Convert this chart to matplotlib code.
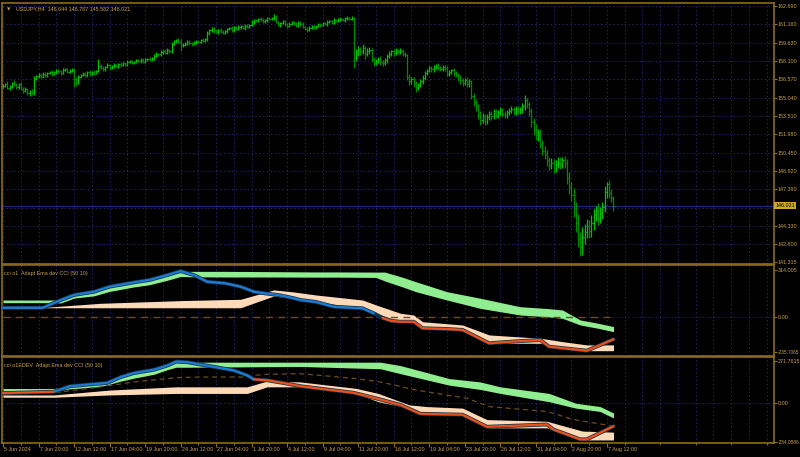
import numpy as np
import matplotlib
matplotlib.use("Agg")
import matplotlib.pyplot as plt
from matplotlib import font_manager

# USDJPY H4 closes, bar by bar
closes = [
    156.05, 156.20, 155.85, 155.95, 156.30, 156.10, 155.90, 156.15,
    155.80, 155.60, 155.75, 155.45, 155.55, 155.40,
    156.60, 156.85, 156.95, 156.80,
    157.05, 156.90, 157.10, 157.20, 157.00, 157.15, 157.30, 157.25, 157.10, 157.35, 157.40, 157.20, 157.30, 157.35,
    156.60, 156.30,
    156.80, 156.95, 157.05, 156.90, 157.15, 157.00, 157.20, 157.10, 157.25,
    157.70,
    157.55, 157.40, 157.60, 157.75, 157.50, 157.65, 157.80, 157.70, 157.85, 157.75, 157.90, 157.80,
    158.00, 158.10, 157.95, 158.05, 158.15, 158.10, 158.20, 158.05, 158.25, 158.30, 158.20, 158.35,
    158.55, 158.70, 158.65, 158.85, 158.95, 158.80, 159.00, 158.90,
    159.50, 159.75, 159.85, 159.70,
    159.40,
    159.45, 159.55, 159.70, 159.60, 159.50, 159.65, 159.75, 159.70, 159.85, 159.80, 159.90,
    160.40, 160.65, 160.80, 160.60, 160.50, 160.70, 160.55, 160.45, 160.60,
    160.75, 160.85, 160.65, 160.90, 160.80, 160.95, 161.00, 160.85, 161.05, 160.95, 161.10,
    161.35, 161.50, 161.45, 161.60, 161.55, 161.40, 161.50, 161.65, 161.60, 161.70, 161.80, 161.35,
    161.10, 161.25, 161.40, 161.15, 161.00, 161.20, 161.35, 161.25, 161.05, 161.30,
    161.20, 160.95, 160.80, 160.70, 160.85, 161.00, 160.90, 161.05, 161.15, 161.10, 161.25, 161.20,
    161.35, 161.40, 161.30, 161.50, 161.45, 161.55, 161.60, 161.50, 161.65, 161.70, 161.60, 161.70,
    158.40,
    158.80, 159.10, 158.90, 159.20, 158.70, 158.95, 159.05,
    158.20, 157.95, 158.10, 158.30, 158.05, 157.90, 158.15,
    158.50, 158.70, 158.90, 158.75, 159.00, 158.85, 158.95, 158.70, 158.60,
    156.80,
    156.40, 156.60, 156.20, 155.90, 156.10, 156.45, 156.70,
    157.10, 157.30, 157.50, 157.40, 157.60, 157.70, 157.55, 157.45, 157.60, 157.50,
    157.00, 157.20, 157.35, 157.10, 156.95,
    156.70, 156.50, 156.30, 156.55, 156.20, 156.40,
    155.20, 154.70, 154.30, 153.60, 153.20, 153.50, 153.10,
    153.40, 153.70, 153.50, 153.90, 153.60, 153.80, 154.00, 153.70, 153.55,
    153.80, 153.95, 154.05, 153.85, 154.10, 153.90, 154.00, 154.30, 154.80, 154.50, 153.90,
    153.00, 152.40, 151.90, 152.10,
    151.20, 150.60, 150.30,
    149.80, 149.40, 149.60, 149.20, 149.50,
    149.70, 149.50, 149.80, 149.60,
    148.30, 147.60, 146.90,
    145.80, 144.60, 143.20, 142.60, 143.40,
    143.80, 144.30, 143.90,
    144.60, 145.20, 145.60, 145.00, 145.40, 145.90,
    147.20, 147.80, 147.10, 146.644, 146.021,
]
first_open = 156.00

# upper / lower wick lengths of each bar
wick_up = [
    0.15, 0.10, 0.20, 0.12, 0.08, 0.18, 0.14, 0.10, 0.22, 0.12, 0.16, 0.10,
    0.14, 0.20, 0.25, 0.10, 0.12, 0.18, 0.10, 0.15, 0.12, 0.08, 0.14, 0.10,
    0.12, 0.16, 0.10, 0.14, 0.08, 0.12, 0.10, 0.15, 0.20, 0.18, 0.12, 0.10,
    0.14, 0.10, 0.12, 0.16, 0.08, 0.12, 0.10, 0.60, 0.15, 0.12, 0.10, 0.14,
    0.12, 0.10, 0.16, 0.08, 0.12, 0.14, 0.10, 0.12, 0.15, 0.10, 0.12, 0.08,
    0.14, 0.10, 0.12, 0.16, 0.10, 0.08, 0.12, 0.10, 0.15, 0.12, 0.10, 0.14,
    0.10, 0.12, 0.15, 0.10, 0.18, 0.12, 0.10, 0.14, 0.20, 0.12, 0.10, 0.15,
    0.12, 0.10, 0.14, 0.08, 0.12, 0.10, 0.15, 0.12, 0.20, 0.14, 0.10, 0.12,
    0.15, 0.10, 0.12, 0.14, 0.10, 0.12, 0.08, 0.14, 0.10, 0.12, 0.15, 0.10,
    0.12, 0.10, 0.14, 0.12, 0.18, 0.10, 0.12, 0.08, 0.14, 0.10, 0.12, 0.10,
    0.14, 0.10, 0.20, 0.15, 0.12, 0.10, 0.14, 0.12, 0.10, 0.15, 0.12, 0.10,
    0.14, 0.10, 0.12, 0.15, 0.10, 0.12, 0.14, 0.10, 0.12, 0.08, 0.14, 0.10,
    0.12, 0.10, 0.14, 0.12, 0.10, 0.15, 0.12, 0.10, 0.14, 0.12, 0.10, 0.12,
    0.10, 0.12, 0.05, 0.30, 0.25, 0.20, 0.30, 0.15, 0.20, 0.25, 0.15, 0.20,
    0.18, 0.15, 0.20, 0.12, 0.18, 0.15, 0.20, 0.12, 0.18, 0.15, 0.12, 0.20,
    0.15, 0.12, 0.10, 0.25, 0.20, 0.18, 0.25, 0.20, 0.15, 0.20, 0.18, 0.15,
    0.20, 0.15, 0.18, 0.12, 0.20, 0.15, 0.18, 0.20, 0.15, 0.18, 0.12, 0.20,
    0.15, 0.18, 0.20, 0.15, 0.12, 0.20, 0.18, 0.15, 0.20, 0.25, 0.18, 0.30,
    0.25, 0.20, 0.30, 0.20, 0.25, 0.18, 0.22, 0.20, 0.25, 0.18, 0.20, 0.22,
    0.20, 0.25, 0.18, 0.22, 0.20, 0.25, 0.30, 0.50, 0.25, 0.20, 0.30, 0.35,
    0.40, 0.30, 0.35, 0.30, 0.40, 0.35, 0.30, 0.40, 0.35, 0.30, 0.40, 0.35,
    0.30, 0.40, 0.35, 0.50, 0.40, 0.60, 0.50, 0.70, 0.60, 0.80, 0.70, 0.60,
    0.50, 0.60, 0.50, 0.40, 0.60, 0.50, 0.40, 0.50, 0.20, 0.40, 0.30, 0.143,
]
wick_dn = [
    0.12, 0.15, 0.10, 0.18, 0.12, 0.10, 0.16, 0.12, 0.10, 0.14, 0.12, 0.20,
    0.30, 0.15, 0.10, 0.12, 0.14, 0.10, 0.12, 0.15, 0.10, 0.12, 0.14, 0.10,
    0.10, 0.12, 0.14, 0.10, 0.12, 0.08, 0.14, 0.10, 0.70, 0.25, 0.12, 0.10,
    0.12, 0.14, 0.10, 0.12, 0.10, 0.14, 0.12, 0.10, 0.12, 0.14, 0.10, 0.12,
    0.14, 0.10, 0.12, 0.10, 0.15, 0.12, 0.10, 0.14, 0.12, 0.10, 0.12, 0.14,
    0.10, 0.12, 0.14, 0.10, 0.12, 0.15, 0.10, 0.12, 0.14, 0.10, 0.12, 0.10,
    0.14, 0.10, 0.12, 0.15, 0.12, 0.10, 0.14, 0.12, 0.50, 0.14, 0.10, 0.12,
    0.15, 0.12, 0.10, 0.14, 0.12, 0.10, 0.12, 0.14, 0.15, 0.10, 0.12, 0.14,
    0.10, 0.12, 0.14, 0.10, 0.12, 0.15, 0.10, 0.12, 0.14, 0.10, 0.12, 0.15,
    0.10, 0.14, 0.12, 0.10, 0.12, 0.15, 0.10, 0.12, 0.14, 0.10, 0.12, 0.14,
    0.10, 0.12, 0.14, 0.10, 0.12, 0.15, 0.10, 0.12, 0.14, 0.10, 0.12, 0.14,
    0.10, 0.12, 0.15, 0.10, 0.12, 0.14, 0.10, 0.12, 0.15, 0.10, 0.12, 0.14,
    0.10, 0.12, 0.14, 0.10, 0.12, 0.15, 0.10, 0.12, 0.14, 0.10, 0.12, 0.14,
    0.10, 0.12, 0.85, 0.30, 0.25, 0.30, 0.25, 0.40, 0.20, 0.25, 0.20, 0.25,
    0.20, 0.15, 0.25, 0.20, 0.15, 0.20, 0.18, 0.15, 0.20, 0.18, 0.15, 0.20,
    0.18, 0.20, 0.30, 0.30, 0.25, 0.30, 0.40, 0.25, 0.20, 0.25, 0.20, 0.18,
    0.15, 0.20, 0.18, 0.15, 0.20, 0.18, 0.15, 0.20, 0.18, 0.15, 0.20, 0.25,
    0.20, 0.25, 0.30, 0.25, 0.20, 0.30, 0.25, 0.30, 0.35, 0.40, 0.35, 0.45,
    0.30, 0.35, 0.30, 0.25, 0.30, 0.25, 0.30, 0.25, 0.20, 0.30, 0.25, 0.20,
    0.25, 0.20, 0.25, 0.30, 0.25, 0.20, 0.25, 0.30, 0.30, 0.40, 0.40, 0.45,
    0.40, 0.45, 0.40, 0.35, 0.40, 0.45, 0.40, 0.35, 0.45, 0.40, 0.35, 0.40,
    0.35, 0.40, 0.50, 0.60, 0.50, 0.70, 0.80, 0.60, 0.80, 0.70, 0.60, 0.50,
    0.60, 0.50, 0.60, 0.50, 0.60, 0.40, 0.50, 0.40, 0.50, 0.40, 0.30, 0.439,
]

price_ticks = [162.690, 161.160, 159.630, 158.100, 156.570, 155.040, 153.510,
               151.980, 150.450, 148.920, 147.390, 145.860, 144.330, 142.800]
price_min = 141.315
last_price = 146.021
header = "USDJPY,H4  146.644 146.787 145.582 146.021"

date_labels = ["5 Jun 2024", "7 Jun 20:00", "12 Jun 12:00", "17 Jun 04:00", "19 Jun 20:00",
               "24 Jun 12:00", "27 Jun 04:00", "1 Jul 20:00", "4 Jul 12:00", "9 Jul 04:00",
               "11 Jul 20:00", "16 Jul 12:00", "19 Jul 04:00", "23 Jul 20:00", "26 Jul 12:00",
               "31 Jul 04:00", "2 Aug 20:00", "7 Aug 12:00"]
bars_per_label = 16

# --- indicator 1: cci o1 (keypoints: bar index, value) ---
o1_cci_x = [0, 18, 26, 32, 41, 48, 59, 66, 74, 80, 86, 92, 100, 107, 113, 118, 125, 131, 134,
            141, 149, 162, 167, 171, 175, 179, 185, 189, 200, 207, 219, 230, 242, 246, 263, 275]
o1_cci_y = [60, 60, 112, 146, 168, 202, 231, 247, 280, 307, 280, 235, 225, 202, 168, 157, 143, 124, 112,
            99, 67, 56, 23, -9, -29, -34, -34, -78, -83, -89, -179, -167, -157, -202, -229, -152]
o1_turn = 168  # line turns red here

o1_up_x = [0, 23, 26, 32, 41, 48, 59, 66, 74, 80, 86, 100, 120, 140, 150, 168, 172, 180, 186,
           200, 215, 233, 245, 252, 260, 268, 275]
o1_up_top = [112, 112, 110, 143, 165, 198, 228, 244, 277, 305, 305, 305, 303, 301, 301, 300, 300, 265, 235,
             168, 124, 67, 55, 45, -22, -44, -67]
o1_up_bot = [94, 94, 92, 125, 140, 170, 200, 215, 245, 270, 268, 267, 267, 266, 266, 264, 240, 200, 168,
             112, 56, 11, 0, -11, -56, -78, -101]

o1_dn_x = [18, 44, 80, 107, 122, 130, 141, 162, 168, 179, 185, 189, 207, 219, 242, 252, 263, 275]
o1_dn_top = [62, 90, 108, 117, 180, 168, 146, 112, 79, 23, 11, -34, -56, -123, -145, -168, -190, -190]
o1_dn_bot = [60, 60, 60, 60, 139, 124, 101, 56, 23, -34, -34, -78, -89, -179, -179, -213, -229, -229]

o1_mid_x = [0, 275]
o1_mid_y = [0, 0]
o1_ticks = [314.005, 0.0, -235.7065]
o1_tick_txt = ["314.005", "0.00", "-235.7065"]

# --- indicator 2: cci o1EDEV ---
o2_cci_x = [0, 23, 30, 44, 47, 53, 59, 68, 74, 78, 83, 89, 96, 104, 110, 113, 119, 126, 134,
            158, 168, 179, 188, 207, 218, 245, 248, 260, 263, 275]
o2_cci_y = [62, 71, 107, 125, 129, 167, 193, 215, 242, 268, 264, 249, 231, 210, 178, 152, 146, 129, 107,
            64, 28, -15, -73, -79, -158, -143, -176, -240, -240, -154]
o2_turn_a = 23
o2_turn_b = 113

o2_up_x = [0, 23, 30, 44, 53, 59, 68, 74, 78, 83, 134, 170, 179, 201, 215, 224, 246, 258, 269, 275]
o2_up_top = [92, 92, 107, 122, 163, 190, 212, 240, 266, 264, 264, 264, 242, 157, 135, 103, 60, -4, -26, -68]
o2_up_bot = [71, 71, 90, 105, 140, 160, 185, 215, 231, 231, 236, 221, 189, 114, 86, 60, 6, -36, -58, -100]

o2_dn_x = [0, 23, 48, 78, 110, 119, 134, 159, 169, 183, 191, 207, 218, 245, 261, 275]
o2_dn_top = [50, 50, 82, 103, 103, 141, 135, 93, 60, -15, -26, -36, -111, -122, -186, -193]
o2_dn_bot = [35, 35, 50, 60, 60, 103, 103, 60, 6, -36, -79, -79, -165, -165, -244, -244]

o2_mid_x = [0, 23, 44, 59, 78, 89, 110, 113, 119, 134, 159, 170, 186, 209, 219, 245, 257, 275]
o2_mid_y = [64, 64, 103, 135, 163, 167, 167, 178, 185, 189, 157, 135, 82, 28, -26, -58, -111, -154]
o2_ticks = [271.7615, 0.0, -254.0886]
o2_tick_txt = ["271.7615", "0.00", "-254.0886"]

# colours
BG = "#000000"
GOLD = "#8c6c1a"
TXT = "#c8a24a"
GRID = "#242470"
BAR_UP = "#00c000"
BAR_DN = "#008a00"
GREEN_BAND = "#90ee90"
PEACH = "#ffdab9"
BLUE = "#1e7ad0"
RED = "#e8501c"
EDGE = "#123048"
MID = "#6e4a24"

# pick a narrow font so the small MT4 labels fit
installed = {f.name for f in font_manager.fontManager.ttflist}
FONT, FS = "DejaVu Sans", 3.4
for name, size in [("Liberation Sans Narrow", 4.5), ("DejaVu Sans Condensed", 4.0),
                   ("Liberation Sans", 3.9), ("Roboto", 3.8)]:
    if name in installed:
        FONT, FS = name, size
        break

W, H = 800, 457
plt.rcParams["font.family"] = [FONT, "DejaVu Sans"]
fig = plt.figure(figsize=(W / 100, H / 100), dpi=100, facecolor=BG)

x_left, x_right = 2, 774
bar_px = 2.22
first_bar_px = 3
xmin = -(first_bar_px - x_left) / bar_px
xmax = (x_right - first_bar_px) / bar_px


def add_panel(top, bottom):
    ax = fig.add_axes([x_left / W, 1 - bottom / H, (x_right - x_left) / W, (bottom - top) / H])
    ax.set_facecolor(BG)
    for s in ax.spines.values():
        s.set_color(GOLD)
        s.set_linewidth(1.2)
    ax.set_xlim(xmin, xmax)
    ax.tick_params(axis="x", which="both", length=0, labelbottom=False)
    ax.yaxis.tick_right()
    ax.tick_params(axis="y", colors=GOLD, labelcolor=TXT, length=2, width=0.8,
                   labelsize=FS, pad=0.6)
    for k in range(0, int(xmax) + 1, 8):
        ax.axvline(k, color=GRID, lw=0.7, ls=(0, (1.5, 2.5)), zorder=0)
    return ax


def y_lim_from_px(ax, v_a, px_a, v_b, px_b, top, bottom):
    scale = (v_a - v_b) / (px_b - px_a)
    ax.set_ylim(v_b - (bottom - px_b) * scale, v_a + (px_a - top) * scale)


def fit_long_labels(ax):
    # the long negative extremes are squeezed a little so they stay inside the picture
    for lbl in ax.get_yticklabels():
        if len(lbl.get_text()) > 8:
            lbl.set_fontsize(FS * 0.88)


# ---------------- main price panel ----------------
ax = add_panel(3, 264)
y_lim_from_px(ax, 162.690, 6, price_min, 262, 3, 264)
for p in price_ticks:
    ax.axhline(p, color=GRID, lw=0.7, ls=(0, (1.5, 2.5)), zorder=0)
ax.axhline(last_price, color="#1c2c78", lw=0.8, zorder=0)

closes_a = np.array(closes)
opens_a = np.concatenate([[first_open], closes_a[:-1]])
highs = np.maximum(opens_a, closes_a) + np.array(wick_up)
lows = np.minimum(opens_a, closes_a) - np.array(wick_dn)
idx = np.arange(len(closes_a))
cols = [BAR_UP if c >= o else BAR_DN for o, c in zip(opens_a, closes_a)]
ax.vlines(idx, lows, highs, colors=cols, lw=0.9)
ax.hlines(opens_a, idx - 0.5, idx, colors=cols, lw=0.8)
ax.hlines(closes_a, idx, idx + 0.5, colors=cols, lw=0.8)

shown = [p for p in price_ticks if p != 145.860] + [price_min]
ax.set_yticks(shown)
ax.set_yticklabels([f"{p:.3f}" for p in shown])
ax.text(1.0015, last_price, f"{last_price:.3f}", transform=ax.get_yaxis_transform(),
        fontsize=FS, color="#000000", va="center", ha="left",
        bbox=dict(boxstyle="square,pad=0.2", fc="#d4a82a", ec="none"))
ax.text(0.006, 0.984, "\u25bc", transform=ax.transAxes, fontsize=3.2, color=TXT, va="top",
        family="DejaVu Sans")
ax.text(0.018, 0.988, header, transform=ax.transAxes, fontsize=FS, color=TXT, va="top")


def draw_cci(ax, xs, ys, reds):
    xs = np.array(xs)
    ys = np.array(ys)
    ax.plot(xs, ys, color=EDGE, lw=2.8, solid_capstyle="round", zorder=4)
    for a, b, c in reds:
        m = (xs >= a) & (xs <= b)
        ax.plot(xs[m], ys[m], color=c, lw=1.7, solid_capstyle="round", zorder=5)


# ---------------- cci o1 ----------------
ax1 = add_panel(265, 356)
y_lim_from_px(ax1, 314.005, 270, -235.7065, 351.7, 265, 356)
ax1.axhline(0, color=GRID, lw=0.7, ls=(0, (1.5, 2.5)), zorder=0)
ax1.fill_between(o1_up_x, o1_up_bot, o1_up_top, color=GREEN_BAND, lw=0, zorder=2)
ax1.fill_between(o1_dn_x, o1_dn_bot, o1_dn_top, color=PEACH, lw=0, zorder=2)
ax1.plot(o1_mid_x, o1_mid_y, color=MID, lw=1.0, ls=(0, (5, 4)), zorder=3)
draw_cci(ax1, o1_cci_x, o1_cci_y, [(0, o1_turn, BLUE), (o1_turn, 300, RED)])
ax1.set_yticks(o1_ticks)
ax1.set_yticklabels(o1_tick_txt)
fit_long_labels(ax1)
ax1.text(0.002, 0.93, "cci o1  Adapt Ema dev CCI (50 10)", transform=ax1.transAxes,
         fontsize=FS, color=TXT, va="top")

# ---------------- cci o1EDEV ----------------
ax2 = add_panel(357, 443)
y_lim_from_px(ax2, 271.7615, 361, -254.0886, 441.5, 357, 443)
ax2.axhline(0, color=GRID, lw=0.7, ls=(0, (1.5, 2.5)), zorder=0)
ax2.fill_between(o2_up_x, o2_up_bot, o2_up_top, color=GREEN_BAND, lw=0, zorder=2)
ax2.fill_between(o2_dn_x, o2_dn_bot, o2_dn_top, color=PEACH, lw=0, zorder=2)
ax2.plot(o2_mid_x, o2_mid_y, color=MID, lw=0.9, ls=(0, (4, 3)), zorder=3)
draw_cci(ax2, o2_cci_x, o2_cci_y,
         [(0, o2_turn_a, RED), (o2_turn_a, o2_turn_b, BLUE), (o2_turn_b, 300, RED)])
ax2.set_yticks(o2_ticks)
ax2.set_yticklabels(o2_tick_txt)
fit_long_labels(ax2)
ax2.text(0.002, 0.93, "cci o1EDEV  Adapt Ema dev CCI (50 10)", transform=ax2.transAxes,
         fontsize=FS, color=TXT, va="top")

# time axis under the last panel
ax2.set_xticks([k * bars_per_label for k in range(len(date_labels))])
ax2.set_xticks(range(8, int(xmax) + 1, 16), minor=True)
ax2.tick_params(axis="x", which="major", length=3, color=GOLD, width=0.8, labelbottom=False)
ax2.tick_params(axis="x", which="minor", length=1.5, color=GOLD, width=0.8)
for k, lab in enumerate(date_labels):
    ax2.annotate(lab, (k * bars_per_label, 0), xycoords=("data", "axes fraction"),
                 xytext=(0.8, -3.2), textcoords="offset points", fontsize=FS, color=TXT,
                 ha="left", va="top", annotation_clip=False)

fig.savefig("out.png", dpi=100, facecolor=BG)
